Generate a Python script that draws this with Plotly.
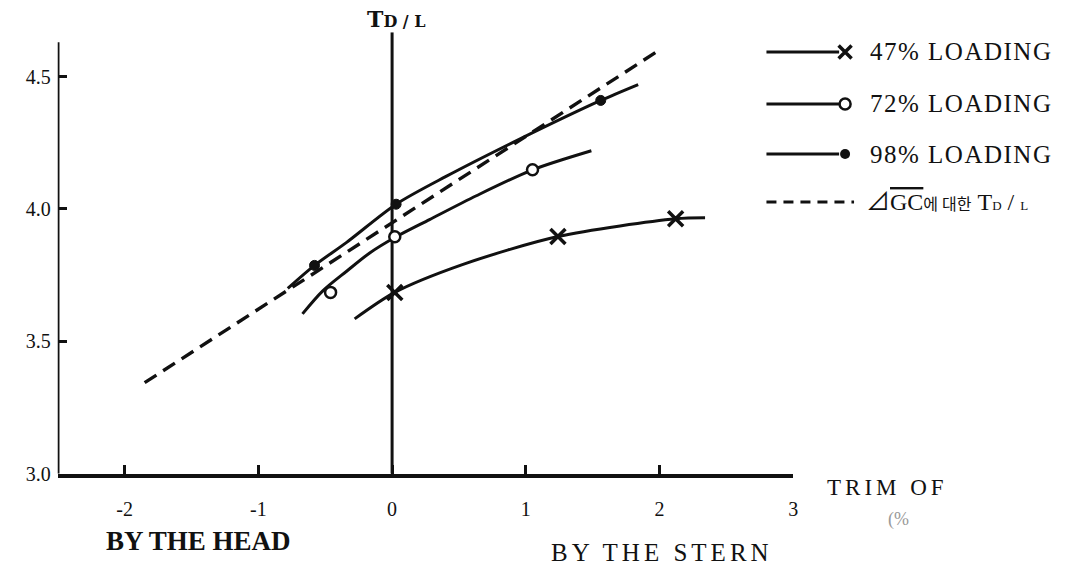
import plotly.graph_objects as go

# ---------------- data ----------------
x_47 = [-0.28, 0.02, 0.52, 1.24, 2.12, 2.34]
y_47 = [3.585, 3.685, 3.789, 3.896, 3.963, 3.967]
mx_47 = [0.02, 1.24, 2.12]
my_47 = [3.685, 3.896, 3.963]

x_72 = [-0.67, -0.52, -0.34, -0.17, 0.03, 0.28, 0.63, 1.05, 1.49]
y_72 = [3.604, 3.69, 3.765, 3.833, 3.895, 3.96, 4.05, 4.148, 4.22]
mx_72 = [-0.46, 0.02, 1.05]
my_72 = [3.685, 3.895, 4.148]

x_98 = [-0.78, -0.58, -0.34, 0.03, 0.40, 0.95, 1.56, 1.84]
y_98 = [3.70, 3.787, 3.874, 4.018, 4.122, 4.263, 4.41, 4.47]
mx_98 = [-0.58, 0.03, 1.56]
my_98 = [3.787, 4.018, 4.41]

x_gc = [-1.85, 0.40, 2.01]
y_gc = [3.344, 4.078, 4.604]

x_ticks = [-2, -1, 0, 1, 2, 3]
x_tick_text = ["-2", "-1", "0", "1", "2", "3"]
y_ticks = [3.0, 3.5, 4.0, 4.5]
y_tick_text = ["3.0", "3.5", "4.0", "4.5"]

legend_labels = ["47% LOADING", "72% LOADING", "98% LOADING"]
legend_gc = ("⊿<span style='text-decoration:overline'>GC</span>"
             "<span style='font-size:16px'>에 대한</span> "
             "T<span style='font-size:13px'>D</span> / <span style='font-size:13px'>L</span>")

# ---------------- figure ----------------
W, H = 1085, 576
BLACK = "#111111"
SERIF = "Liberation Serif, DejaVu Serif, serif"


def spaced(txt, px):
    return "<span style='letter-spacing:%spx'>%s</span>" % (px, txt)


fig = go.Figure()

line_style = dict(color=BLACK, width=3, shape="spline", smoothing=0.8)

fig.add_trace(go.Scatter(x=x_gc, y=y_gc, mode="lines",
                         line=dict(color=BLACK, width=3.4, dash="14px,8px"),
                         hoverinfo="skip", showlegend=False))
fig.add_trace(go.Scatter(x=x_47, y=y_47, mode="lines", line=line_style,
                         showlegend=False))
fig.add_trace(go.Scatter(x=x_72, y=y_72, mode="lines", line=line_style,
                         showlegend=False))
fig.add_trace(go.Scatter(x=x_98, y=y_98, mode="lines", line=line_style,
                         showlegend=False))

fig.add_trace(go.Scatter(x=mx_47, y=my_47, mode="markers",
                         marker=dict(symbol="x-thin", size=15,
                                     line=dict(color=BLACK, width=3.5)),
                         showlegend=False))
fig.add_trace(go.Scatter(x=mx_72, y=my_72, mode="markers",
                         marker=dict(symbol="circle", size=11, color="white",
                                     line=dict(color=BLACK, width=2.5)),
                         showlegend=False))
fig.add_trace(go.Scatter(x=mx_98, y=my_98, mode="markers",
                         marker=dict(symbol="circle", size=10, color=BLACK,
                                     line=dict(color=BLACK, width=1)),
                         showlegend=False))

# centre axis (x = 0) running up to the T_D/L label
fig.add_shape(type="line", xref="x", yref="y", x0=0, x1=0, y0=3.0, y1=4.667,
              line=dict(color=BLACK, width=3), layer="below")
# left axis (ends a little below the plot top)
fig.add_shape(type="line", xref="x", yref="y", x0=-2.5, x1=-2.5, y0=3.0, y1=4.63,
              line=dict(color=BLACK, width=3.5), layer="below")

# ---------------- legend (pixel axes) ----------------
leg_y = [53, 106, 157, 206]
for i, lab in enumerate(legend_labels):
    fig.add_trace(go.Scatter(x=[770, 843], y=[leg_y[i], leg_y[i]], mode="lines",
                             line=dict(color=BLACK, width=3), xaxis="x2", yaxis="y2",
                             showlegend=False, hoverinfo="skip"))
    if i == 0:
        mk = dict(symbol="x-thin", size=13, line=dict(color=BLACK, width=3.5))
    elif i == 1:
        mk = dict(symbol="circle", size=11, color="white", line=dict(color=BLACK, width=2.5))
    else:
        mk = dict(symbol="circle", size=10, color=BLACK)
    fig.add_trace(go.Scatter(x=[849], y=[leg_y[i]], mode="markers", marker=mk,
                             xaxis="x2", yaxis="y2", showlegend=False, hoverinfo="skip"))
    fig.add_annotation(x=872, y=leg_y[i], xref="x2", yref="y2", text=spaced(lab, 1.5),
                       showarrow=False, xanchor="left", yanchor="middle",
                       font=dict(family=SERIF, size=25, color=BLACK))
fig.add_trace(go.Scatter(x=[770, 858], y=[leg_y[3], leg_y[3]], mode="lines",
                         line=dict(color=BLACK, width=3, dash="10px,7px"),
                         xaxis="x2", yaxis="y2", showlegend=False, hoverinfo="skip"))
fig.add_annotation(x=868, y=leg_y[3], xref="x2", yref="y2", text=legend_gc,
                   showarrow=False, xanchor="left", yanchor="middle",
                   font=dict(family=SERIF + ", Noto Sans CJK KR", size=24, color=BLACK))

# ---------------- other texts ----------------
fig.add_annotation(x=398, y=19, xref="x2", yref="y2",
                   text="<b>T</b><span style='font-size:16px'><b>D / L</b></span>",
                   showarrow=False, xanchor="center", yanchor="middle",
                   font=dict(family="DejaVu Serif, serif", size=22, color=BLACK))
fig.add_annotation(x=829, y=497, xref="x2", yref="y2", text=spaced("TRIM OF", 4),
                   showarrow=False, xanchor="left", yanchor="middle",
                   font=dict(family=SERIF, size=23, color=BLACK))
fig.add_annotation(x=890, y=530, xref="x2", yref="y2", text="(%",
                   showarrow=False, xanchor="left", yanchor="middle",
                   font=dict(family=SERIF, size=18, color="#999999"))
fig.add_annotation(x=104, y=552, xref="x2", yref="y2", text="<b>BY THE HEAD</b>",
                   showarrow=False, xanchor="left", yanchor="middle",
                   font=dict(family=SERIF, size=27, color=BLACK))
fig.add_annotation(x=552, y=563, xref="x2", yref="y2", text=spaced("BY THE STERN", 4),
                   showarrow=False, xanchor="left", yanchor="middle",
                   font=dict(family=SERIF, size=25, color=BLACK))

# ---------------- layout ----------------
x0p, x1p = 58, 797
ybot, ytop = 483, 33
fig.update_layout(
    width=W, height=H,
    margin=dict(l=0, r=0, t=0, b=0, pad=0),
    paper_bgcolor="white", plot_bgcolor="rgba(0,0,0,0)",
    showlegend=False,
    xaxis=dict(domain=[x0p / W, x1p / W], range=[-2.5, 3.0],
               tickmode="array", tickvals=x_ticks, ticktext=x_tick_text,
               ticks="inside", ticklen=9, tickwidth=2.5, tickcolor=BLACK,
               showline=True, linecolor=BLACK, linewidth=3.5,
               showgrid=False, zeroline=False, ticklabelstandoff=14,
               tickfont=dict(family=SERIF, size=20, color=BLACK),
               anchor="y"),
    yaxis=dict(domain=[(H - ybot) / H, (H - ytop) / H], range=[3.0, 4.667],
               tickmode="array", tickvals=y_ticks, ticktext=y_tick_text,
               ticks="inside", ticklen=9, tickwidth=2.5, tickcolor=BLACK,
               showline=False, showgrid=False, zeroline=False,
               ticklabelstandoff=6,
               tickfont=dict(family=SERIF, size=20, color=BLACK),
               anchor="x"),
    xaxis2=dict(domain=[0, 1], range=[0, W], visible=False, fixedrange=True,
                anchor="y2"),
    yaxis2=dict(domain=[0, 1], range=[H, 0], visible=False, fixedrange=True,
                anchor="x2"),
)

fig.write_html("out.html", config={"displayModeBar": False},
               post_script="document.body.style.margin='0';document.body.style.overflow='hidden';")
